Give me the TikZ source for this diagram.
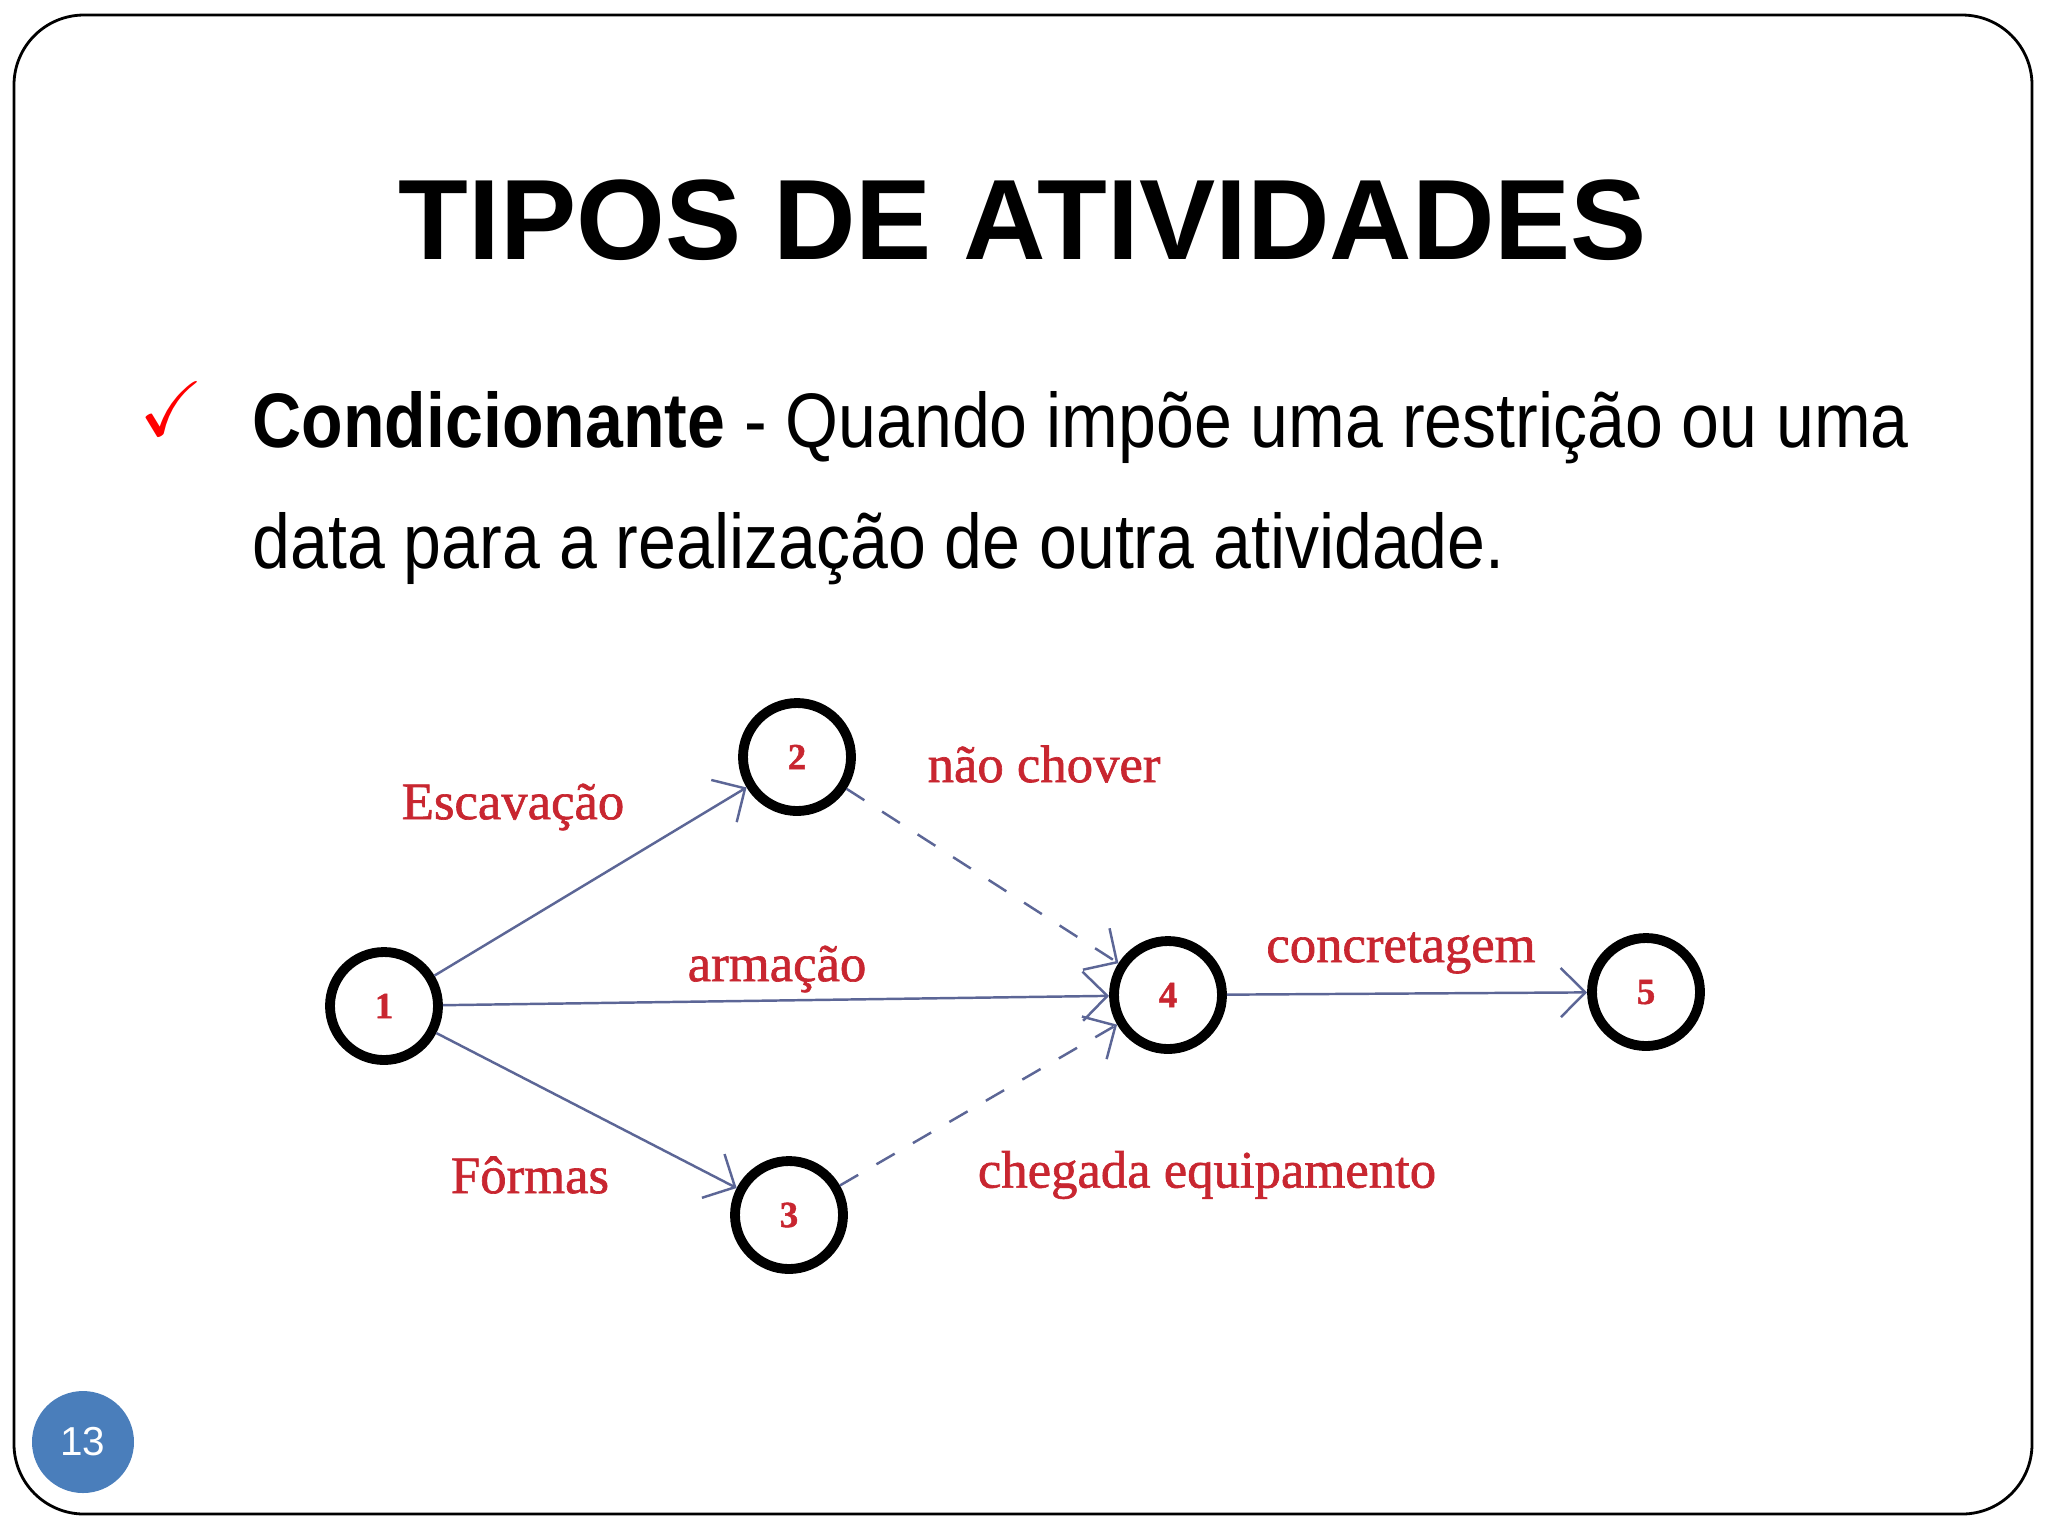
\documentclass[tikz,border=0pt]{standalone}
\usepackage{amssymb}
\usepackage{fontspec}
\setmainfont{Liberation Serif}[FakeBold=1.2]
\newfontfamily\arialfont{Liberation Sans}
\newfontfamily\bodyfont{Liberation Sans}[FakeStretch=0.88]
\usepackage{xcolor}
\usetikzlibrary{arrows.meta,positioning}

\definecolor{labelred}{RGB}{200,38,48}
\definecolor{edgeblue}{RGB}{92,102,150}
\definecolor{pageblue}{RGB}{74,126,187}

\tikzset{
    event/.style={circle, draw=black, line width=2.8pt, minimum size=10.8mm, inner sep=0pt,
        font=\fontsize{10.5}{10.5}\selectfont\bfseries, text=labelred},
    activity/.style={draw=edgeblue, line width=0.7pt, -{Straight Barb[length=7pt,width=14pt]}},
    dummy/.style={activity, dash pattern=on 6pt off 6pt},
    actlabel/.style={font=\fontsize{15}{15}\selectfont, text=labelred},
    bodytext/.style={anchor=base west, inner sep=0pt, font=\bodyfont\fontsize{22}{22}\selectfont}
}

\begin{document}
\begin{tikzpicture}[x=0.1mm,y=-0.1mm]
    \useasboundingbox (0,0) rectangle (2048,1536);
    % slide frame
    \draw[line width=0.8pt, rounded corners=7mm] (14,15) rectangle (2032,1514);
    % title and text
    \node[font=\arialfont\fontsize{32.5}{32.5}\selectfont\bfseries] (title) at (1023,220) {TIPOS DE ATIVIDADES};
    \node[text=red, font=\fontsize{22}{22}\selectfont] (check) at (172,409) {$\checkmark$};
    \node[bodytext] (line1) at (252,447) {\textbf{Condicionante} - Quando impõe uma restrição ou uma};
    \node[bodytext] (line2) at (252,568) {data para a realização de outra atividade.};

    % events
    \node[event] (n1) at (384,1006) {1};
    \node[event] (n2) at (797,757) {2};
    \node[event] (n3) at (789,1215) {3};
    \node[event] (n4) at (1168,995) {4};
    \node[event] (n5) at (1646,992) {5};

    % activities
    \draw[activity] (n1) -- (n2);
    \draw[activity] (n1) -- (n4);
    \draw[activity] (n1) -- (n3);
    \draw[activity] (n4) -- (n5);
    \draw[dummy] (n2) -- (n4);
    \draw[dummy] (n3) -- (n4);

    % labels
    \node[actlabel] (escav) at (513,807) {Escavação};
    \node[actlabel] (chover) at (1044,764) {não chover};
    \node[actlabel] (armac) at (777,969) {armação};
    \node[actlabel] (concr) at (1401,953) {concretagem};
    \node[actlabel] (formas) at (530,1175) {Fôrmas};
    \node[actlabel] (cheg) at (1207,1175) {chegada equipamento};

    % page number
    \node[circle, fill=pageblue, minimum size=10.2mm, text=white,
        font=\arialfont\fontsize{11.5}{11.5}\selectfont] (page) at (83,1442) {13};
\end{tikzpicture}
\end{document}
